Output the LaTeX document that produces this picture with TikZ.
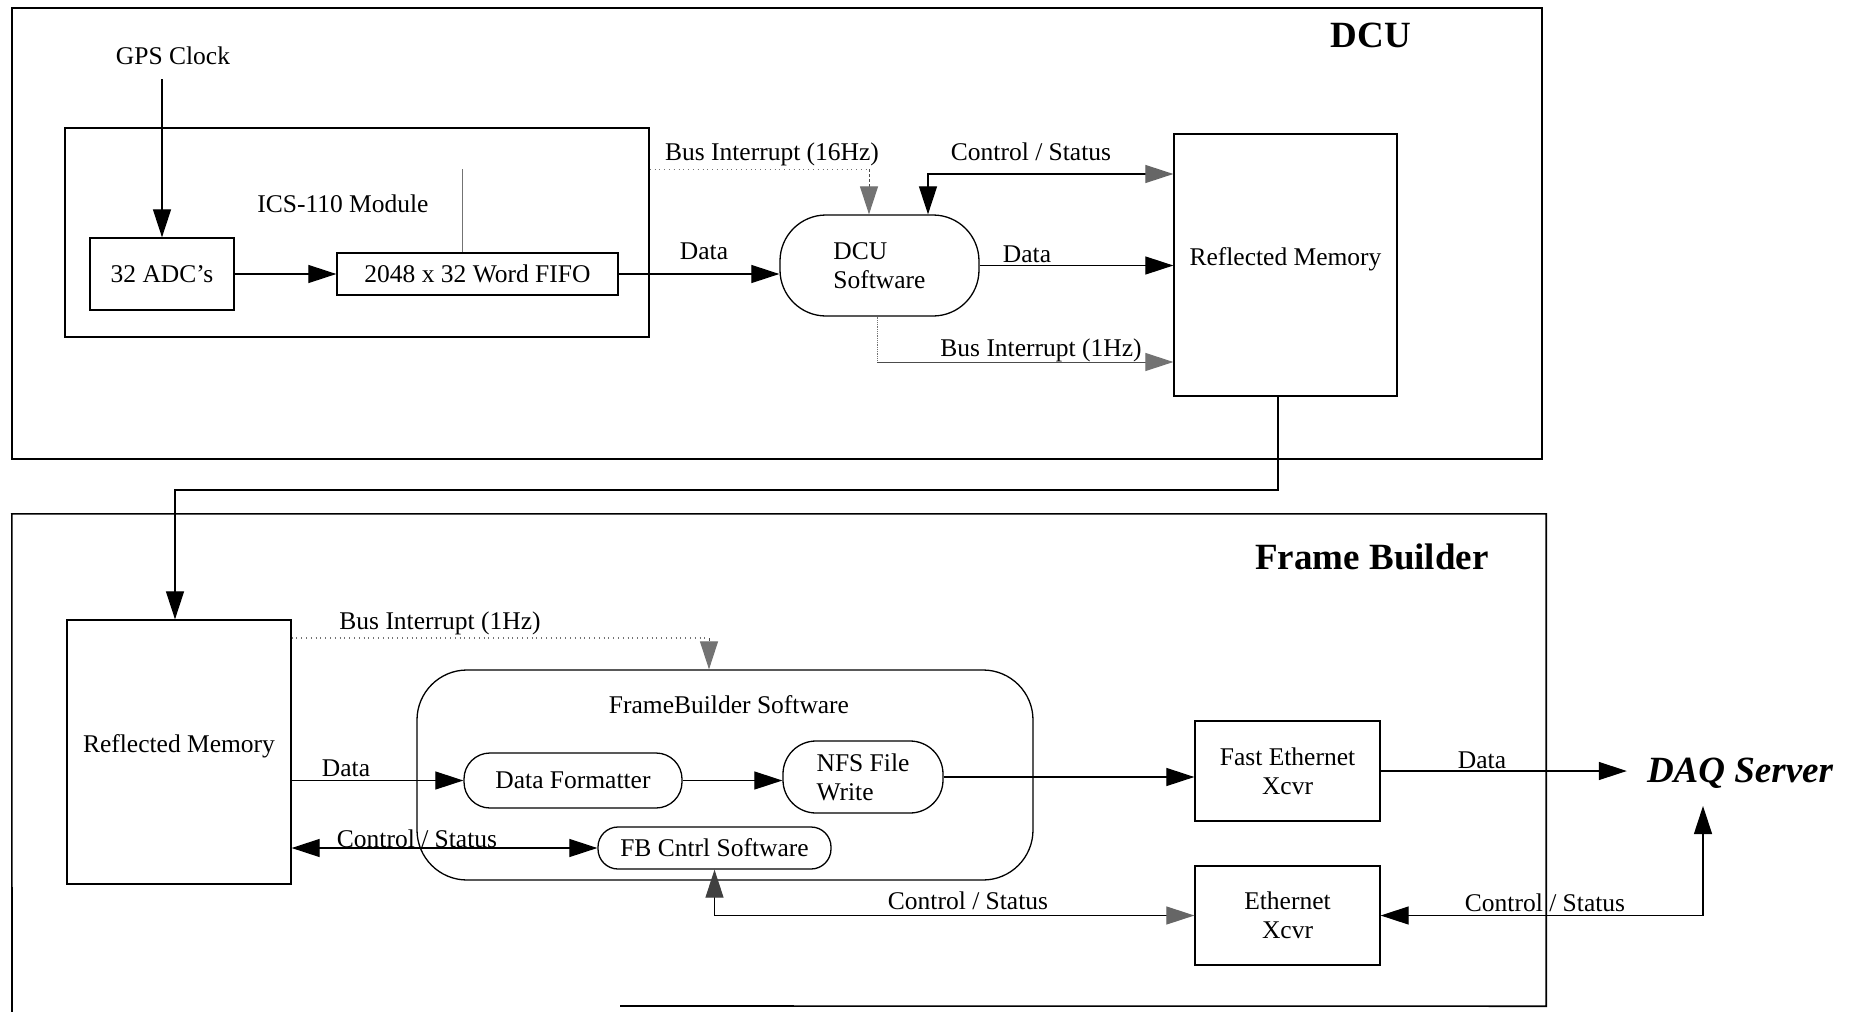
\documentclass[tikz,border=0pt]{standalone}
\usepackage{fontspec}
\setmainfont{Liberation Serif}
\usetikzlibrary{arrows.meta}
\begin{document}
\begin{tikzpicture}[x=1pt,y=-1pt,
  txt/.style={font=\fontsize{25.5}{29}\selectfont, inner sep=0pt, align=center},
  bigtxt/.style={font=\fontsize{37}{40}\selectfont\bfseries, inner sep=0pt},
  bigbox/.style={line width=1.6pt},
  box/.style={draw, line width=1.3pt, inner sep=0pt, font=\fontsize{25.5}{29}\selectfont, align=center},
  rbox/.style={box, rounded corners=#1},
  ln/.style={line width=1.2pt},
  arr/.style={ln, -{Triangle[length=28pt,width=18pt]}},
  garr/.style={line width=1pt, draw=black!70, -{Triangle[length=28pt,width=18pt,color=black!55]}},
  darr/.style={ln, {Triangle[length=28pt,width=18pt]}-{Triangle[length=28pt,width=18pt]}},
  faint/.style={line width=0.8pt, draw=black!55}
]
\useasboundingbox (0,0) rectangle (1853,1012);
\fill[white] (0,0) rectangle (1853,1012);

% ---------------- DCU ----------------
\node[draw, bigbox, minimum width=1530pt, minimum height=451pt, inner sep=0pt] (dcu) at (777,233.5) {};
\node[bigtxt] (dculbl) at (1371,35) {DCU};
\node[txt] (gps) at (173,56) {GPS Clock};
\node[draw, line width=1.4pt, minimum width=584pt, minimum height=209pt, inner sep=0pt] (ics) at (357,232.5) {};
\node[txt] (icslbl) at (343,204) {ICS-110 Module};
\node[box, minimum width=144pt, minimum height=72pt] (adc) at (162,274) {32 ADC’s};
\node[box, minimum width=281pt, minimum height=42pt] (fifo) at (477.5,274) {2048 x 32 Word FIFO};
\node[rbox=46pt, minimum width=199pt, minimum height=101pt, align=left] (dcusw) at (879.5,265.5) {DCU\\Software};
\node[box, minimum width=223pt, minimum height=262pt, text depth=16pt] (rm1) at (1285.5,265) {Reflected Memory};

\draw[arr] ([yshift=-14pt]gps.south -| adc.north) -- (adc.north);
\draw[arr] (adc.east) -- (fifo.west);
\draw[arr] (fifo.east) -- (fifo.east -| dcusw.west);
\node[txt] (dlbl1) at (704,251) {Data};

\coordinate (bi1) at (869,169);
\draw[faint, loosely dotted] (ics.east |- bi1) -- (bi1);
\draw[garr, densely dashed] (bi1) -- (bi1 |- dcusw.north);
\node[txt] (bi1lbl) at (772,154) {Bus Interrupt (16Hz)};
\coordinate (tl) at (462,169);
\draw[faint] (tl) -- (tl |- fifo.north);

\coordinate (cs1) at (928,174);
\draw[ln, {Triangle[length=28pt,width=18pt]}-{Triangle[length=28pt,width=18pt,color=black!60]}]
  (cs1 |- dcusw.north) -- (cs1) -- (cs1 -| rm1.west);
\node[txt] (cs1lbl) at (1031,152) {Control / Status};

\draw[arr] (dcusw.east) -- (dcusw.east -| rm1.west);
\node[txt] (dlbl2) at (1027,254) {Data};

\coordinate (bi2) at (877,362);
\draw[faint, densely dotted] (bi2 |- dcusw.south) -- (bi2);
\draw[garr] (bi2) -- (bi2 -| rm1.west);
\node[txt] (bi2lbl) at (1041,350) {Bus Interrupt (1Hz)};

% ---------------- Frame Builder ----------------
\node[minimum width=1534pt, minimum height=492pt, inner sep=0pt] (fb) at (779,760) {};
\coordinate (fbcut) at (620,1006);
\coordinate (fbleft) at (12,1012);
\draw[bigbox] (fbleft) -- (fb.north west) -- (fb.north east) -- (fb.south east) -- (fbcut);
\node[bigtxt] (fblbl) at (1372,557) {Frame Builder};

\node[box, minimum width=224pt, minimum height=264pt, text depth=16pt] (rm2) at (179,752) {Reflected Memory};
\node[rbox=50pt, minimum width=616pt, minimum height=210pt] (fbsw) at (725,775) {};
\node[txt] (fbswlbl) at (729,705) {FrameBuilder Software};
\node[rbox=26pt, minimum width=218pt, minimum height=55pt] (df) at (573,780.5) {Data Formatter};
\node[rbox=33pt, minimum width=160pt, minimum height=72pt, align=left] (nfs) at (863,777) {NFS File\\Write};
\node[rbox=20pt, minimum width=233pt, minimum height=42pt] (fbc) at (714.5,848) {FB Cntrl Software};
\node[box, minimum width=185pt, minimum height=100pt] (fe) at (1287.5,771) {Fast Ethernet\\Xcvr};
\node[box, minimum width=185pt, minimum height=99pt] (eth) at (1287.5,915.5) {Ethernet\\Xcvr};
\node[font=\fontsize{37}{40}\selectfont\bfseries\itshape, inner sep=0pt] (daq) at (1740,773) {DAQ Server};

% RM1 -> RM2
\coordinate (j1) at (1278,490);
\coordinate (j2) at (175,490);
\draw[ln, -{Triangle[length=28pt,width=18pt]}] (j1 |- rm1.south) -- (j1) -- (j2) -- (j2 |- rm2.north);

% lower bus interrupt
\coordinate (bi3) at (709,638);
\draw[faint, loosely dotted, line width=1.2pt] (rm2.east |- bi3) -- (bi3);
\draw[garr, densely dashed] (bi3) -- (bi3 |- fbsw.north);
\node[txt] (bi3lbl) at (440,623) {Bus Interrupt (1Hz)};

\draw[arr] (rm2.east |- df.west) -- (df.west);
\node[txt] (dlbl3) at (346,768) {Data};
\draw[arr] (df.east) -- (df.east -| nfs.west);
\draw[arr] (nfs.east) -- (nfs.east -| fe.west);
\draw[arr] (fe.east) -- ([xshift=-20pt]daq.west |- fe.east);
\node[txt] (dlbl4) at (1482,760) {Data};

\draw[darr] (rm2.east |- fbc.west) -- (fbc.west);
\node[txt] (cs2lbl) at (417,839) {Control / Status};

\draw[ln, {Triangle[length=28pt,width=18pt,color=black!75]}-{Triangle[length=28pt,width=18pt,color=black!60]}]
  (fbc.south) |- (eth.west);
\node[txt] (cs3lbl) at (968,901) {Control / Status};

\coordinate (dqb) at (1703,806);
\draw[darr] (eth.east) -| (dqb);
\node[txt] (cs4lbl) at (1545,903) {Control / Status};
\end{tikzpicture}
\end{document}
